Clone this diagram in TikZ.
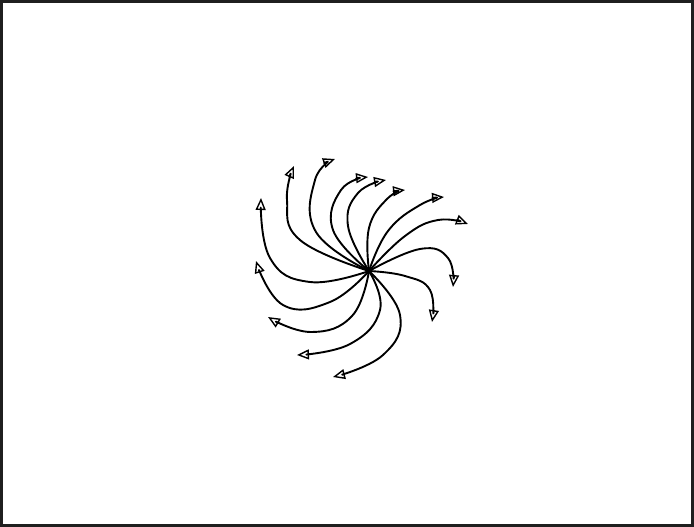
\documentclass[tikz,border=0pt]{standalone}
\usetikzlibrary{arrows.meta}
\begin{document}
\begin{tikzpicture}[x=1pt,y=-1pt,
  curve/.style={line width=1.9pt, line cap=round, line join=round,
    -{Triangle[open,length=12pt,width=10pt,line width=1.4pt]}},
  frame/.style={draw=black!88, line width=3pt}]
\useasboundingbox (0,0) rectangle (694,527);
\draw[frame] (1.5,1.5) rectangle (692.5,525.5);
\coordinate (c) at (369,271);
\coordinate (t1) at (261,198);
\coordinate (t2) at (256,261);
\coordinate (t3) at (268,317);
\coordinate (t4) at (297,355);
\coordinate (t5) at (333,377);
\coordinate (t6) at (432,322);
\coordinate (t7) at (453,287);
\coordinate (t8) at (468,224);
\coordinate (t9) at (444,197);
\coordinate (t10) at (405,190);
\coordinate (t11) at (386,180);
\coordinate (t12) at (368,177);
\coordinate (t13) at (335,159);
\coordinate (t14) at (294,166);
\draw[curve] plot[smooth,tension=0.75] coordinates {(c) (310,282) (270,258) (t1)};
\draw[curve] plot[smooth,tension=0.75] coordinates {(c) (330,302) (283,305) (t2)};
\draw[curve] plot[smooth,tension=0.75] coordinates {(c) (352,316) (311,332) (t3)};
\draw[curve] plot[smooth,tension=0.75] coordinates {(c) (380,310) (350,344) (t4)};
\draw[curve] plot[smooth,tension=0.75] coordinates {(c) (400,315) (383,355) (t5)};
\draw[curve] plot[smooth,tension=0.75] coordinates {(c) (405,276) (430,290) (t6)};
\draw[curve] plot[smooth,tension=0.75] coordinates {(c) (420,249) (448,258) (t7)};
\draw[curve] plot[smooth,tension=0.75] coordinates {(c) (405,236) (438,220) (t8)};
\draw[curve] plot[smooth,tension=0.75] coordinates {(c) (388,231) (420,205) (t9)};
\draw[curve] plot[smooth,tension=0.75] coordinates {(c) (369,228) (387,199) (t10)};
\draw[curve] plot[smooth,tension=0.75] coordinates {(c) (348,226) (358,193) (t11)};
\draw[curve] plot[smooth,tension=0.75] coordinates {(c) (333,230) (341,190) (t12)};
\draw[curve] plot[smooth,tension=0.75] coordinates {(c) (316,232) (315,180) (t13)};
\draw[curve] plot[smooth,tension=0.75] coordinates {(c) (300,240) (287,200) (t14)};
\fill (c) circle (2.5pt);
\end{tikzpicture}
\end{document}
